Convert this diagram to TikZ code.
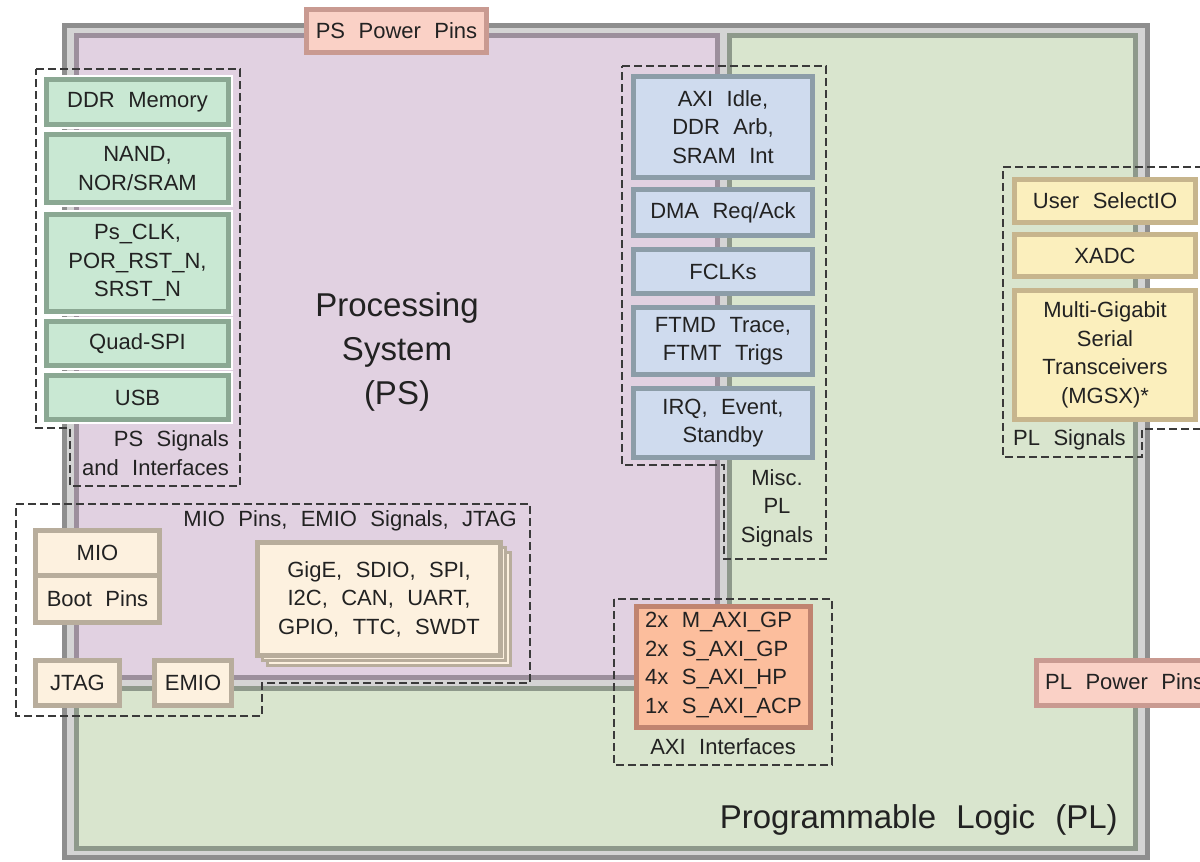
\documentclass[tikz,border=0pt]{standalone}
\usepackage{fontspec}
\setmainfont[WordSpace=2.2]{Liberation Sans}
\definecolor{frameD}{HTML}{8E8E8E}
\definecolor{frameL}{HTML}{D4D4D4}
\definecolor{psfill}{HTML}{E1D1E1}
\definecolor{psline}{HTML}{9C8F9C}
\definecolor{plfill}{HTML}{D9E5CE}
\definecolor{plline}{HTML}{8E998B}
\definecolor{gfill}{HTML}{C9E8D3}
\definecolor{gline}{HTML}{8BA893}
\definecolor{bfill}{HTML}{CFDBEE}
\definecolor{bline}{HTML}{8C9DA8}
\definecolor{yfill}{HTML}{FBEFBD}
\definecolor{yline}{HTML}{C7B58D}
\definecolor{cfill}{HTML}{FDF1DF}
\definecolor{cline}{HTML}{B8AD9C}
\definecolor{ofill}{HTML}{FCBE9D}
\definecolor{oline}{HTML}{C08470}
\definecolor{pfill}{HTML}{FAD1C6}
\definecolor{pline}{HTML}{C99A91}
\definecolor{txt}{HTML}{222222}
\definecolor{dashc}{HTML}{3A3A3A}
\tikzset{
  boxbase/.style={draw, line width=5pt, inner sep=0pt, align=center, text=txt,
    font=\fontsize{22}{28.5}\selectfont},
  gbox/.style={boxbase, fill=gfill, draw=gline, preaction={draw=white, line width=9pt}},
  bbox/.style={boxbase, fill=bfill, draw=bline},
  ybox/.style={boxbase, fill=yfill, draw=yline},
  cbox/.style={boxbase, fill=cfill, draw=cline},
  cback/.style={boxbase, fill=cfill, draw=cline, line width=3.5pt},
  obox/.style={boxbase, fill=ofill, draw=oline},
  pbox/.style={boxbase, fill=pfill, draw=pline},
  grp/.style={draw=dashc, line width=1.2pt, dash pattern=on 8pt off 4pt},
  lbl/.style={inner sep=0pt, text=txt, font=\fontsize{22}{28.5}\selectfont},
  biglbl/.style={inner sep=0pt, text=txt, font=\fontsize{33}{44}\selectfont, align=center}
}
\newcommand\bx[7]{\node[#2, minimum width={#5-#3-5}, minimum height={#6-#4-5}] (#1) at ({(#3+#5)/2},{(#4+#6)/2}) {#7};}
\begin{document}
\begin{tikzpicture}[x=1pt,y=-1pt]
\useasboundingbox (0,0) rectangle (1200,862);
\clip (0,0) rectangle (1200,862);
% outer frame
\draw[line width=5pt, draw=frameD, fill=frameL] (64.5,25.5) rectangle (1147.5,857.5);
% PL region (L-shape)
\draw[line width=5pt, draw=plline, fill=plfill, line join=miter]
  (729.5,35.5) -- (1135.5,35.5) -- (1135.5,848.5) -- (76.5,848.5) -- (76.5,688.5) -- (729.5,688.5) -- cycle;
% PS region
\draw[line width=5pt, draw=psline, fill=psfill] (76.5,35.5) rectangle (717.5,677.5);
\node[biglbl] (pstitle) at (397,352) {Processing\\System\\(PS)};
\node[biglbl, anchor=east] (pltitle) at (1118,820) {Programmable Logic (PL)};
% dashed groups
\draw[grp] (36,69) -- (240,69) -- (240,486) -- (70,486) -- (70,428) -- (36,428) -- cycle;
\draw[grp] (622,66) -- (826,66) -- (826,559) -- (724,559) -- (724,465) -- (622,465) -- cycle;
\draw[grp] (1215,167) -- (1003,167) -- (1003,457) -- (1142,457) -- (1142,429) -- (1215,429);
\draw[grp] (16,504) -- (530,504) -- (530,683) -- (262,683) -- (262,716) -- (16,716) -- cycle;
\draw[grp] (614,599) rectangle (832,765);
% group labels
\node[lbl, align=right, anchor=east] (pssig) at (229,453) {PS Signals\\and Interfaces};
\node[lbl, align=center] (miscsig) at (777,508) {Misc.\\PL\\Signals};
\node[lbl, anchor=west] (plsig) at (1013,440) {PL Signals};
\node[lbl, anchor=east] (miolbl) at (517,521) {MIO Pins, EMIO Signals, JTAG};
\node[lbl] (axilbl) at (723,747) {AXI Interfaces};
% power pins
\bx{pspwr}{pbox}{304}{7}{489}{55}{PS Power Pins}
\node[pbox, minimum width=200, minimum height=45, anchor=west] (plpwr) at (1033.5,683) {};
\node[lbl, anchor=west] (plpwrt) at (1045,682) {PL Power Pins};
% PS signal boxes
\bx{ddr}{gbox}{44}{77}{231}{127}{DDR Memory}
\bx{nand}{gbox}{44}{132}{231}{205}{NAND,\\NOR/SRAM}
\bx{clk}{gbox}{44}{212}{231}{314}{Ps\_CLK,\\POR\_RST\_N,\\SRST\_N}
\bx{qspi}{gbox}{44}{319}{231}{368}{Quad-SPI}
\bx{usb}{gbox}{44}{373}{231}{422}{USB}
% misc PL signal boxes
\bx{axiidle}{bbox}{631}{74}{815}{180}{AXI Idle,\\DDR Arb,\\SRAM Int}
\bx{dma}{bbox}{631}{187}{815}{238}{DMA Req/Ack}
\bx{fclk}{bbox}{631}{247}{815}{296}{FCLKs}
\bx{ftmd}{bbox}{631}{305}{815}{377}{FTMD Trace,\\FTMT Trigs}
\bx{irq}{bbox}{631}{386}{815}{460}{IRQ, Event,\\Standby}
% PL signal boxes
\bx{selio}{ybox}{1012}{177}{1198}{225}{User SelectIO}
\bx{xadc}{ybox}{1012}{232}{1198}{279}{XADC}
\bx{mgt}{ybox}{1012}{288}{1198}{422}{Multi-Gigabit\\Serial\\Transceivers\\(MGSX)*}
% MIO boxes
\bx{mio}{cbox}{33}{528}{162}{578}{MIO}
\bx{boot}{cbox}{33}{573}{162}{625}{Boot Pins}
\bx{jtag}{cbox}{33}{658}{122}{708}{JTAG}
\bx{emio}{cbox}{152}{658}{234}{708}{EMIO}
\bx{gig3}{cback}{265}{550}{513}{668}{}
\bx{gig2}{cback}{260}{545}{508}{663}{}
\bx{gig}{cbox}{255}{540}{503}{658}{GigE, SDIO, SPI,\\I2C, CAN, UART,\\GPIO, TTC, SWDT}
% AXI
\bx{axi}{obox}{634}{604}{813}{730}{}
\node[lbl, align=left, anchor=west] (axit) at (645,665) {2x M\_AXI\_GP\\2x S\_AXI\_GP\\4x S\_AXI\_HP\\1x S\_AXI\_ACP};
\end{tikzpicture}
\end{document}
